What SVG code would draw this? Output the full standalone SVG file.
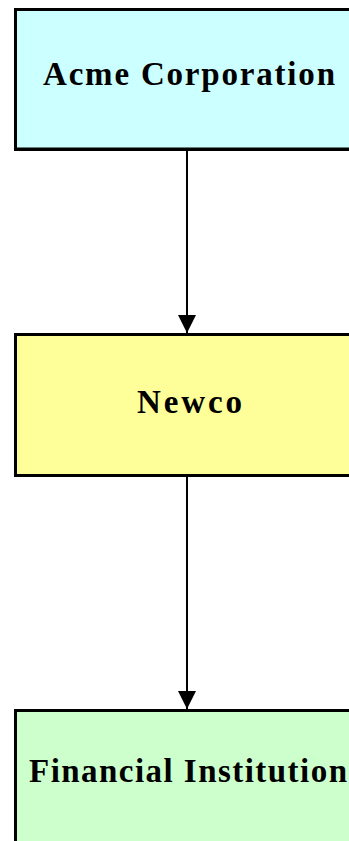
<svg xmlns="http://www.w3.org/2000/svg" width="349" height="841" viewBox="0 0 349 841">
<style>
.box{stroke:#000;stroke-width:3}
.lbl{font-family:"Liberation Serif","Times New Roman",serif;font-weight:bold;font-size:33px;fill:#000;text-anchor:middle}
.conn{stroke:#000;stroke-width:2;fill:none}
</style>
<defs>
<marker id="arr" markerWidth="18" markerHeight="18" refX="18" refY="9" orient="auto" markerUnits="userSpaceOnUse">
<path d="M0,0 L18,9 L0,18 Z" fill="#000"/>
</marker>
</defs>
<g id="connectors">
<line class="conn" x1="187" y1="150" x2="187" y2="333" marker-end="url(#arr)"/>
<line class="conn" x1="187" y1="477" x2="187" y2="709" marker-end="url(#arr)"/>
</g>
<g id="acme">
<rect class="box" x="15.5" y="9.5" width="400" height="139.5" fill="#CCFFFF"/>
<line x1="14" y1="150" x2="349" y2="150" stroke="#000" stroke-width="2"/>
<text class="lbl" x="189" y="85" textLength="292" lengthAdjust="spacing">Acme Corporation</text>
</g>
<g id="newco">
<rect class="box" x="15.5" y="334.5" width="400" height="141" fill="#FFFF99"/>
<text class="lbl" x="189.5" y="413" textLength="105" lengthAdjust="spacing">Newco</text>
</g>
<g id="financial">
<rect class="box" x="15.5" y="710.5" width="400" height="200" fill="#CCFFCC"/>
<text class="lbl" x="188" y="782" textLength="318" lengthAdjust="spacing">Financial Institution</text>
</g>
</svg>
